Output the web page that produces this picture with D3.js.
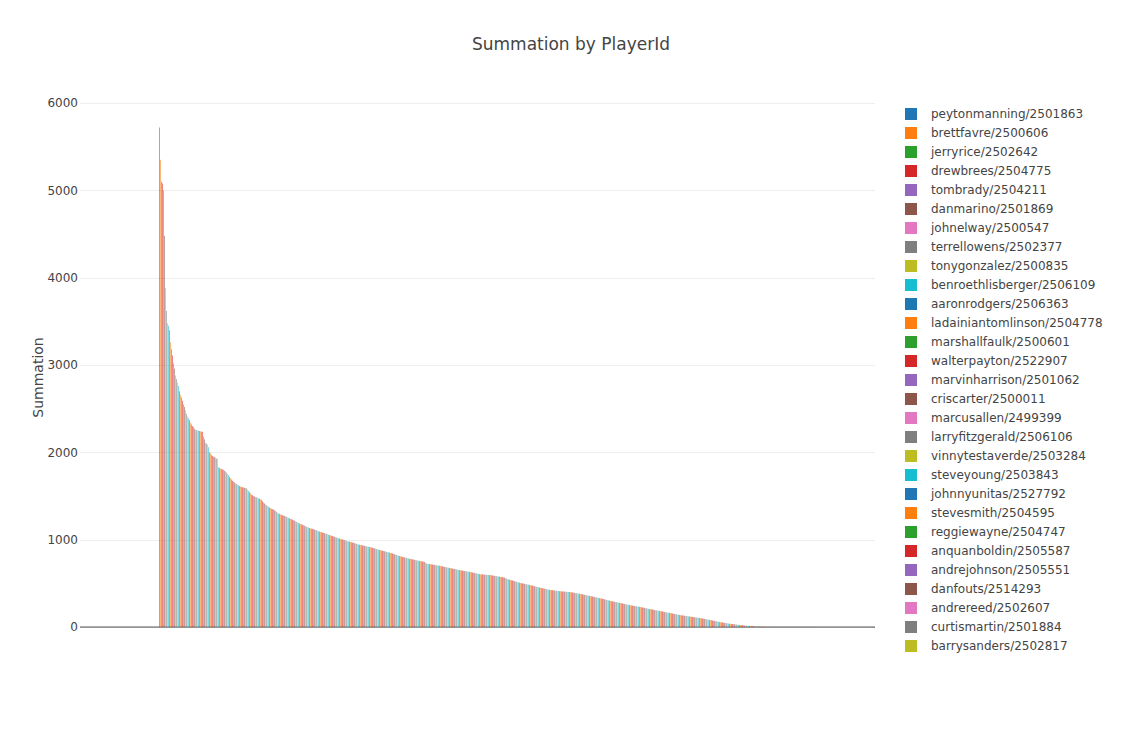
<!DOCTYPE html>
<html>
<head>
<meta charset="utf-8">
<script src="https://cdn.jsdelivr.net/npm/d3@7"></script>
<style>
  html, body { margin: 0; padding: 0; background: #fff; }
  svg { display: block; font-family: "DejaVu Sans", Verdana, sans-serif; }
</style>
</head>
<body>
<svg id="chart" width="1142" height="735"></svg>
<script>
// Players shown in the legend (highest totals first)
const legendPlayers = [
  "peytonmanning/2501863", "brettfavre/2500606", "jerryrice/2502642", "drewbrees/2504775",
  "tombrady/2504211", "danmarino/2501869", "johnelway/2500547", "terrellowens/2502377",
  "tonygonzalez/2500835", "benroethlisberger/2506109", "aaronrodgers/2506363",
  "ladainiantomlinson/2504778", "marshallfaulk/2500601", "walterpayton/2522907",
  "marvinharrison/2501062", "criscarter/2500011", "marcusallen/2499399",
  "larryfitzgerald/2506106", "vinnytestaverde/2503284", "steveyoung/2503843",
  "johnnyunitas/2527792", "stevesmith/2504595", "reggiewayne/2504747",
  "anquanboldin/2505587", "andrejohnson/2505551", "danfouts/2514293",
  "andrereed/2502607", "curtismartin/2501884", "barrysanders/2502817"
];

// Summation per player, sorted descending
const summation = [
  5720,5350,5100,5080,5000,4480,3880,3620,3480,3450,3400,
  3260,3180,3110,3020,2960,2880,2840,2800,2760,2700,
  2660,2630,2590,2550,2520,2480,2440,2410,2390,2370,
  2340,2320,2300,2290,2270,2260,2255,2250,2250,2245,
  2240,2240,2235,2180,2150,2110,2100,2090,2060,2000,
  1990,1970,1960,1950,1945,1940,1930,1925,1830,1820,
  1815,1810,1805,1800,1790,1780,1770,1755,1740,1720,
  1705,1690,1675,1665,1655,1645,1640,1630,1625,1615,
  1610,1605,1600,1598,1595,1592,1590,1575,1560,1545,
  1530,1515,1510,1500,1495,1490,1485,1480,1475,1470,
  1462,1458,1440,1425,1415,1405,1395,1385,1378,1370,
  1362,1355,1350,1345,1338,1330,1320,1310,1302,1296,
  1290,1285,1280,1276,1272,1268,1263,1258,1252,1246,
  1240,1236,1230,1224,1218,1212,1205,1198,1192,1186,
  1180,1176,1171,1166,1160,1155,1150,1145,1140,1135,
  1130,1127,1124,1120,1116,1112,1108,1104,1098,1094,
  1090,1086,1082,1079,1075,1071,1067,1063,1058,1054,
  1050,1046,1042,1038,1034,1030,1026,1022,1018,1014,
  1010,1006,1002,999,995,992,988,985,981,978,
  975,971,968,964,961,957,954,950,946,943,
  940,938,935,933,930,928,925,922,920,917,
  915,911,908,904,901,897,894,890,887,883,
  880,877,874,871,868,865,862,859,856,853,
  850,846,842,838,834,830,826,822,818,814,
  810,807,804,801,798,795,792,789,786,783,
  780,778,775,773,770,768,765,763,760,758,
  755,753,751,749,747,735,728,724,722,721,
  720,718,716,714,712,710,708,706,704,702,
  700,697,695,692,690,687,685,682,680,677,
  675,672,670,667,665,662,660,657,655,652,
  650,648,646,644,642,640,638,636,634,632,
  630,627,625,622,620,617,615,612,610,607,
  605,604,603,602,601,600,599,598,597,596,
  595,593,591,589,587,585,583,581,579,577,
  575,573,571,569,567,560,555,550,546,543,
  540,536,533,529,526,522,519,515,512,508,
  505,503,500,498,495,493,490,488,485,483,
  480,477,474,471,468,465,462,459,456,453,
  450,447,445,442,440,437,435,432,430,427,
  425,423,422,420,419,417,416,414,413,411,
  410,409,408,407,406,405,404,403,402,401,
  400,398,396,394,392,390,388,386,384,382,
  380,377,375,372,370,367,365,362,360,357,
  355,352,350,347,345,342,340,337,335,332,
  330,327,324,321,318,315,312,309,306,303,
  300,297,295,292,290,287,285,282,280,277,
  275,272,270,267,265,262,260,257,255,252,
  250,248,246,244,242,240,238,236,234,232,
  230,227,225,222,220,217,215,212,210,207,
  205,203,201,199,196,194,192,190,187,185,
  183,181,178,176,174,171,169,167,164,162,
  160,158,155,153,151,149,146,144,142,139,
  137,135,133,132,130,128,126,125,123,121,
  120,118,116,115,113,111,109,108,106,104,
  103,101,98,96,94,92,89,87,85,82,
  80,78,75,73,71,69,66,64,62,59,
  57,55,53,51,49,47,45,43,41,39,
  38,36,35,33,32,30,29,27,26,24,
  23,22,21,20,18,17,16,15,14,13,
  12,11,10,10,9,8,8,7,6,6,
  5,5,5,4,4,4,4,3,3,3,
  3,3,3,3,2,2,2,2,2,2,
  2,2,2,2,2,1,1,1,1,1,
  1,1,1,1,1,1,1,1,1,1,
  1,1,1,1,1,1,1,1,1,1,
  1,1,1,1,1,0,0,0,0,0,
  0,0,0,0,0,0,0,0,0,0,
  0,0,0,0,0,0,0,0,0,0,
  0,0,0,0,0,0,0,0,0,0,
  0,0,0,0,0,0,0,0,0,0,
  0,0,0,0,0,0,0,0,0,0,
  0,0,0,-2,-5
];

const yTicks = [0, 1000, 2000, 3000, 4000, 5000, 6000];
const palette = ["#1f77b4", "#ff7f0e", "#2ca02c", "#d62728", "#9467bd",
                 "#8c564b", "#e377c2", "#7f7f7f", "#bcbd22", "#17becf"];
const chartTitle = "Summation by PlayerId";
const yTitle = "Summation";

// Layout
const W = 1142, H = 735;
const plot = { left: 80, right: 875, top: 100, bottom: 655 };
const barsStart = 159;
const textColor = "#444";

const svg = d3.select("#chart");
svg.append("rect").attr("width", W).attr("height", H).attr("fill", "#fff");

const ids = summation.map((d, i) => i < legendPlayers.length ? legendPlayers[i] : "p" + i);

const x = d3.scaleBand()
  .domain(ids)
  .range([barsStart, plot.right])
  .paddingInner(0.2)
  .paddingOuter(0.1);

const yMin = Math.min(0, d3.min(summation));
const yMax = d3.max(summation);
const pad = 0.055 * (yMax - yMin);
const y = d3.scaleLinear()
  .domain([yMin - pad, yMax + pad])
  .range([plot.bottom, plot.top]);

// Gridlines
svg.append("g")
  .selectAll("line")
  .data(yTicks.filter(t => t !== 0))
  .join("line")
  .attr("x1", plot.left).attr("x2", plot.right)
  .attr("y1", d => Math.round(y(d)) + 0.5)
  .attr("y2", d => Math.round(y(d)) + 0.5)
  .attr("stroke", "#eee").attr("stroke-width", 1);

// Zero line
svg.append("line")
  .attr("x1", plot.left).attr("x2", plot.right)
  .attr("y1", y(0)).attr("y2", y(0))
  .attr("stroke", textColor).attr("stroke-width", 1);

// Bars, one per player
svg.append("g")
  .attr("fill-opacity", 0.7)
  .selectAll("rect")
  .data(summation)
  .join("rect")
  .attr("x", (d, i) => x(ids[i]))
  .attr("width", x.bandwidth())
  .attr("y", d => y(Math.max(0, d)))
  .attr("height", d => Math.abs(y(0) - y(d)))
  .attr("fill", (d, i) => palette[i % palette.length]);

// Y axis tick labels
svg.append("g")
  .selectAll("text")
  .data(yTicks)
  .join("text")
  .attr("x", plot.left - 2)
  .attr("y", d => y(d))
  .attr("dy", "0.35em")
  .attr("text-anchor", "end")
  .attr("font-size", 12)
  .attr("fill", textColor)
  .text(d => d);

// Y axis title
svg.append("text")
  .attr("transform", `translate(43,${(plot.top + plot.bottom) / 2}) rotate(-90)`)
  .attr("text-anchor", "middle")
  .attr("font-size", 14)
  .attr("fill", textColor)
  .text(yTitle);

// Title
svg.append("text")
  .attr("x", W / 2)
  .attr("y", 50)
  .attr("text-anchor", "middle")
  .attr("font-size", 17)
  .attr("fill", textColor)
  .text(chartTitle);

// Legend
const legend = svg.append("g").attr("transform", "translate(905,114)");
const rows = legend.selectAll("g")
  .data(legendPlayers)
  .join("g")
  .attr("transform", (d, i) => `translate(0,${i * 19})`);
rows.append("rect")
  .attr("x", 0).attr("y", -6)
  .attr("width", 12).attr("height", 12)
  .attr("fill", (d, i) => palette[i % palette.length]);
rows.append("text")
  .attr("x", 26)
  .attr("y", 0)
  .attr("dy", "0.35em")
  .attr("font-size", 12)
  .attr("fill", textColor)
  .text(d => d);
</script>
</body>
</html>
